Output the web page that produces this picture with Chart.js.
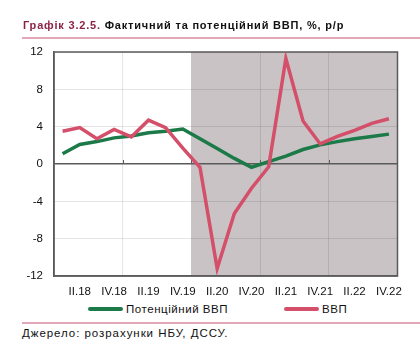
<!DOCTYPE html>
<html><head><meta charset="utf-8">
<script src="https://cdn.jsdelivr.net/npm/chart.js@4"></script>
<style>
html,body{margin:0;padding:0;background:#fff;width:420px;height:355px;overflow:hidden;font-family:"Liberation Sans",Arial,sans-serif;}
#wrap{position:absolute;left:0;top:0;width:420px;height:300px;}
.t{position:absolute;white-space:nowrap;font-size:11px;line-height:14px;color:#111;}
#title{left:23px;top:18px;font-weight:bold;letter-spacing:0.8px;}
#title span{color:#8c2347;}
#src{left:22px;top:326px;font-size:11.5px;letter-spacing:0.95px;}
.hr{position:absolute;left:22px;width:398px;height:1.5px;background:#e3a8b7;}
#legend{position:absolute;top:302px;left:0;width:420px;height:14px;}
.lg{position:absolute;top:0;height:14px;font-size:11.5px;line-height:14px;white-space:nowrap;color:#111;}
.lg i{position:absolute;left:0;top:5px;width:35px;height:4px;border-radius:2px;}
.lg b{font-weight:normal;position:absolute;left:38px;top:0;letter-spacing:0.55px;}
</style></head>
<body>
<div id="wrap"><canvas id="c" width="420" height="300"></canvas></div>
<div class="t" id="title"><span>Графік 3.2.5.</span> Фактичний та потенційний ВВП, %, р/р</div>
<div class="hr" style="top:37px"></div>
<div id="legend"></div>
<div class="hr" style="top:322px"></div>
<div class="t" id="src">Джерело: розрахунки НБУ, ДССУ.</div>
<script>
const categories = ['I.18','II.18','III.18','IV.18','I.19','II.19','III.19','IV.19','I.20','II.20','III.20','IV.20','I.21','II.21','III.21','IV.21','I.22','II.22','III.22','IV.22'];
const seriesNames = ['Потенційний ВВП','ВВП'];
const potentialGDP = [1.1,2.1,2.4,2.8,3.0,3.35,3.5,3.75,2.7,1.65,0.6,-0.35,0.25,0.85,1.55,2.05,2.4,2.7,2.95,3.2];
const actualGDP = [3.5,3.9,2.7,3.7,2.9,4.7,3.9,1.7,-0.35,-11.2,-5.3,-2.6,-0.3,11.3,4.6,2.15,2.95,3.6,4.35,4.85];
const yTickValues = [-12,-8,-4,0,4,8,12];
const shadedFrom = 'I.20';
const colors = ['#1b7a47','#d44f69'];

// legend (HTML)
const legendPos = [88,284];
const lg = document.getElementById('legend');
seriesNames.forEach((n,i)=>{
  const d=document.createElement('div');d.className='lg';d.style.left=legendPos[i]+'px';
  d.innerHTML='<i style="background:'+colors[i]+'"></i><b>'+n+'</b>';lg.appendChild(d);
});

const frame = {
  id:'frame',
  beforeDraw(chart){
    const {ctx,chartArea:a,scales:{x,y}}=chart;
    const idx=categories.indexOf(shadedFrom);
    const xs=(x.getPixelForValue(idx-1)+x.getPixelForValue(idx))/2;
    ctx.save();ctx.fillStyle='#c9c3c6';ctx.fillRect(xs,a.top,a.right-xs,a.bottom-a.top);ctx.restore();
  },
  beforeDatasetsDraw(chart){
    const {ctx,chartArea:a,scales:{x,y}}=chart;
    ctx.save();
    ctx.strokeStyle='#5b5b5b';ctx.lineWidth=1.5;
    ctx.strokeRect(a.left,a.top,a.right-a.left,a.bottom-a.top);
    const y0=y.getPixelForValue(0);
    ctx.lineWidth=1;
    for(let i=4;i<categories.length;i+=4){
      const xp=Math.round((x.getPixelForValue(i-1)+x.getPixelForValue(i))/2)+0.5;
      ctx.beginPath();ctx.moveTo(xp,y0);ctx.lineTo(xp,y0-4);ctx.stroke();
    }
    ctx.restore();
  }
};

new Chart(document.getElementById('c'),{
  type:'line',
  data:{labels:categories,datasets:[
    {label:seriesNames[0],data:potentialGDP,borderColor:colors[0],borderWidth:3.5,pointRadius:0,tension:0,order:2},
    {label:seriesNames[1],data:actualGDP,borderColor:colors[1],borderWidth:3.5,pointRadius:0,tension:0,order:1}
  ]},
  options:{
    responsive:false,animation:false,devicePixelRatio:1,
    layout:{padding:{top:52,right:22.5,left:0,bottom:0}},
    plugins:{legend:{display:false},tooltip:{enabled:false}},
    scales:{
      x:{type:'category',offset:true,
        grid:{offset:true,drawTicks:false,color:c=>(c.index%4===0&&c.index>0)?'rgba(0,0,0,0.1)':'rgba(0,0,0,0)',lineWidth:1},
        border:{display:true,color:'#5b5b5b',width:1.5},
        ticks:{autoSkip:false,maxRotation:0,padding:9,color:'#111',font:{family:'"Liberation Sans", Arial, sans-serif',size:11.5},
          callback:(v,i)=> i%2===1 ? categories[i] : ''},
        afterFit:s=>{s.height=24;}
      },
      y:{min:-12,max:12,
        afterBuildTicks:s=>{s.ticks=yTickValues.map(v=>({value:v}));},
        grid:{drawTicks:false,color:c=>c.tick&&c.tick.value===0?'#5b5b5b':'rgba(0,0,0,0.1)',lineWidth:c=>c.tick&&c.tick.value===0?1.5:1},
        border:{display:true,color:'#5b5b5b',width:1.5},
        ticks:{padding:11,color:'#111',font:{family:'"Liberation Sans", Arial, sans-serif',size:11.5}},
        afterFit:s=>{s.width=54;}
      }
    }
  },
  plugins:[frame]
});
</script>
</body></html>
